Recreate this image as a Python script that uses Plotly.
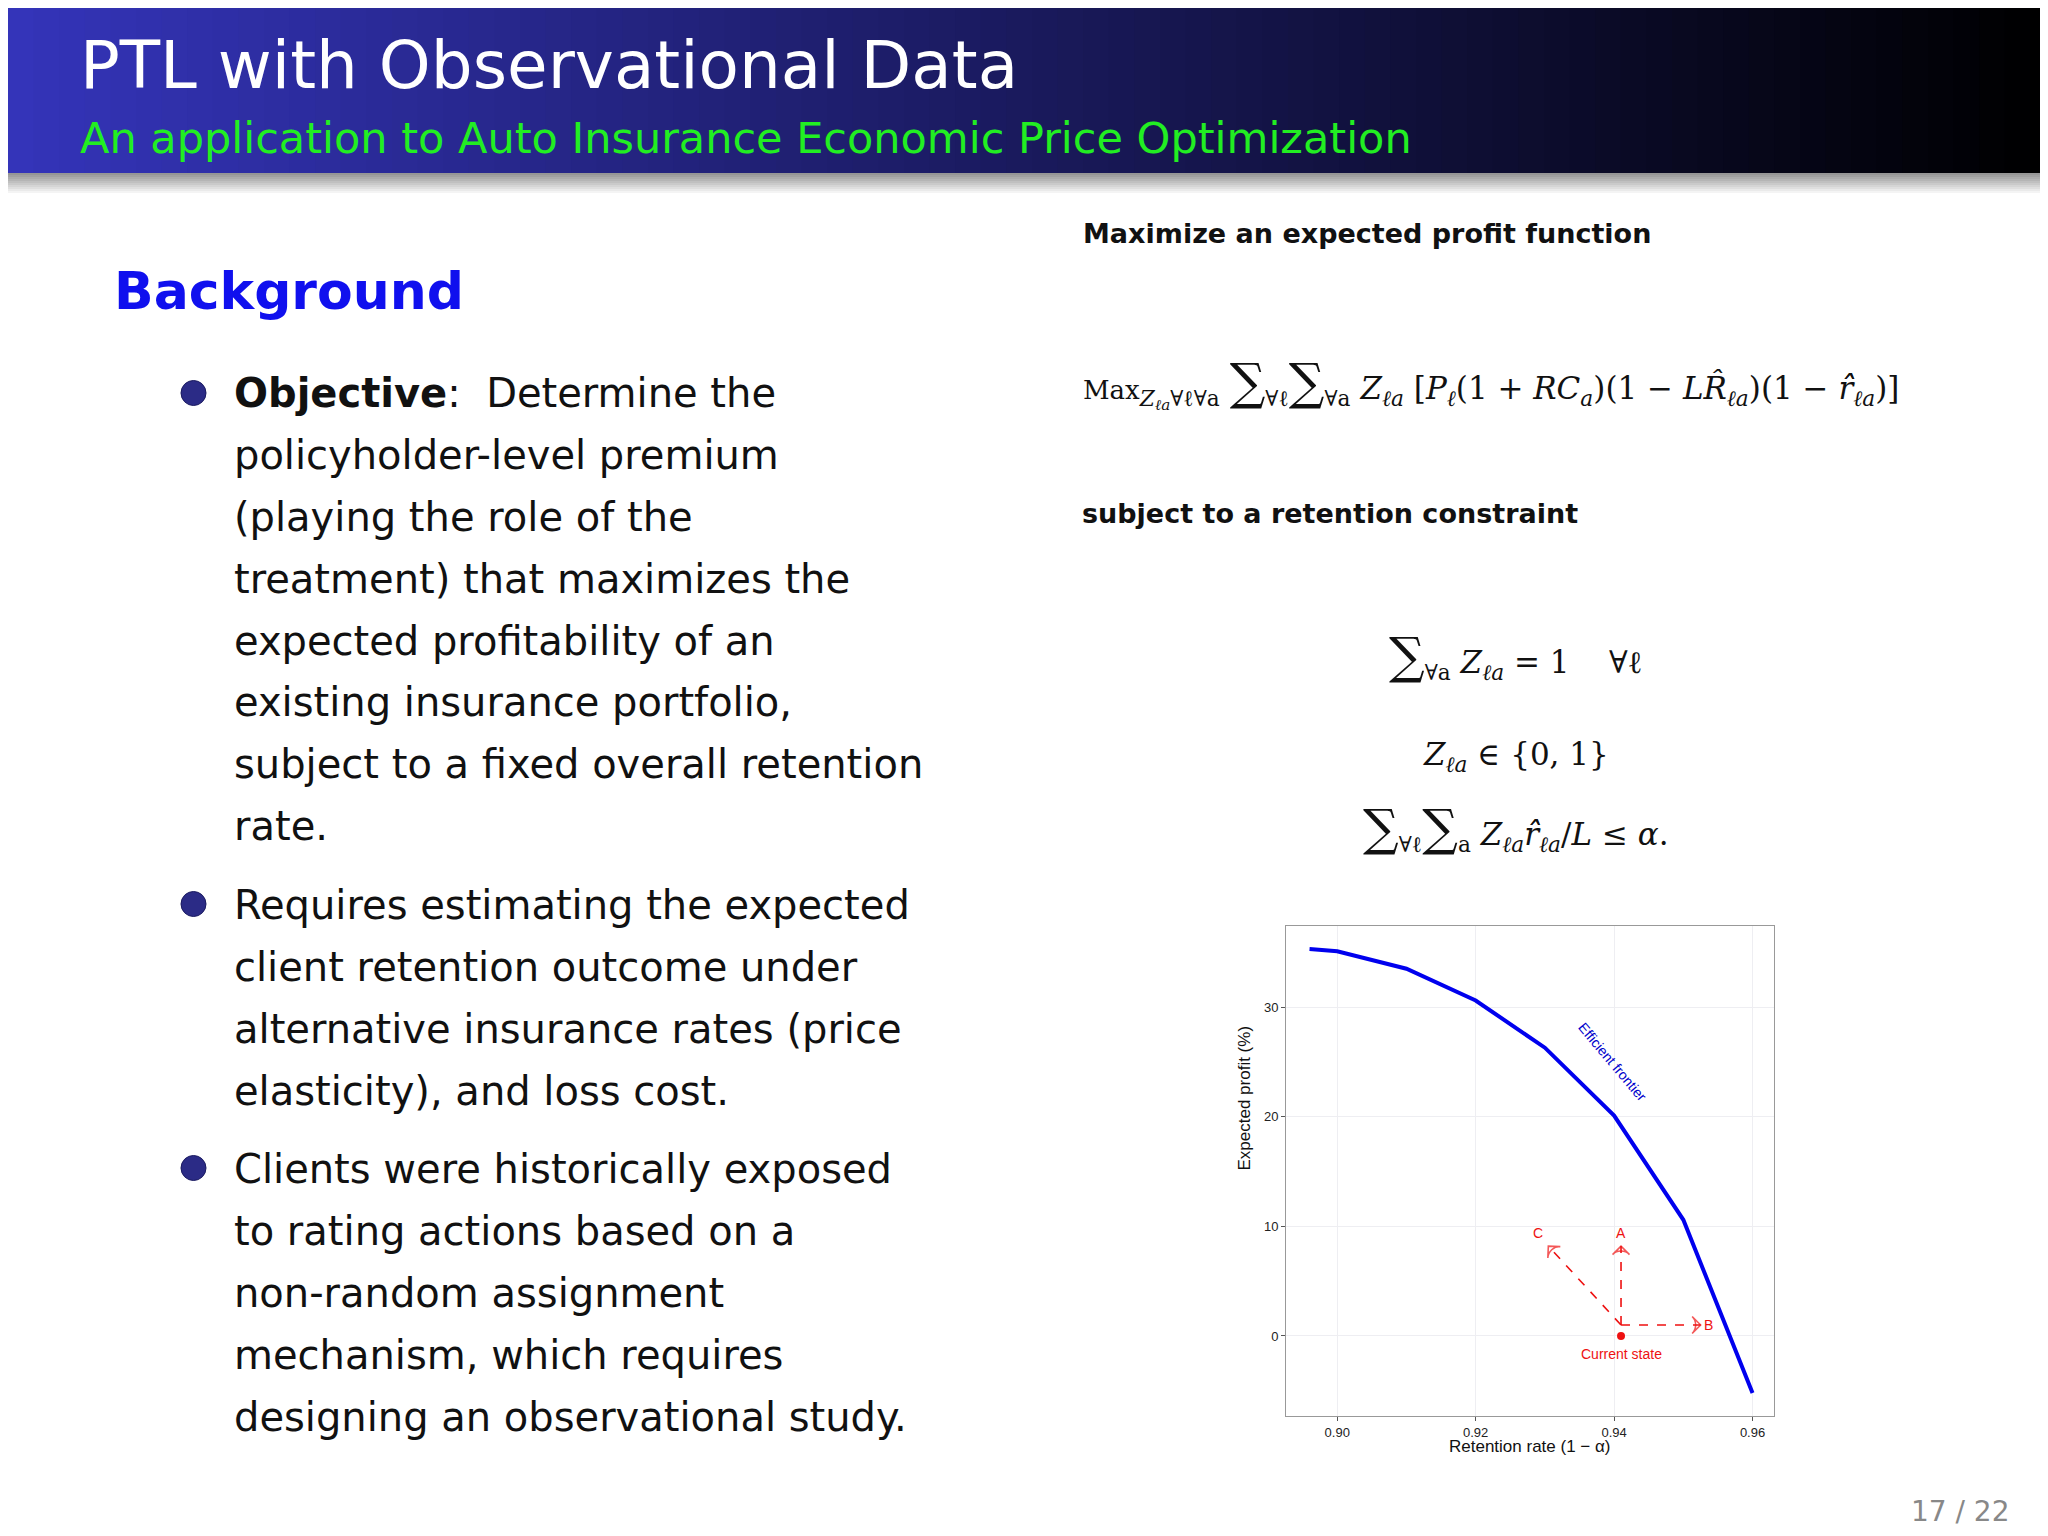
import plotly.graph_objects as go

frontier_x = [0.896, 0.90, 0.91, 0.92, 0.93, 0.94, 0.95, 0.96]
frontier_y = [35.3, 35.1, 33.5, 30.6, 26.3, 20.1, 10.6, -5.2]
current_x, current_y = [0.941], [0.0]
arrow_start = (0.941, 1.0)
arrow_ends = {"A": (0.941, 8.2), "B": (0.9525, 1.0), "C": (0.9305, 8.2)}
x_ticks = [0.90, 0.92, 0.94, 0.96]
y_ticks = [0, 10, 20, 30]

W, H = 2048, 1536
def px(x): return x / W
def py(y): return 1 - y / H

fig = go.Figure()
fig.add_trace(go.Scatter(x=frontier_x, y=frontier_y, mode="lines",
                         line=dict(color="#0000ee", width=4), showlegend=False))
for k, (ex, ey) in arrow_ends.items():
    fig.add_trace(go.Scatter(x=[arrow_start[0], ex], y=[arrow_start[1], ey], mode="lines+markers",
                             line=dict(color="#ee1111", width=1.6, dash="dash"),
                             marker=dict(symbol="arrow-wide-open", size=[0, 12], angleref="previous",
                                         color="#ee1111", line=dict(color="#ee1111", width=1.6)),
                             showlegend=False))
fig.add_trace(go.Scatter(x=current_x, y=current_y, mode="markers",
                         marker=dict(color="#ee1111", size=8), showlegend=False))

ann = []
lab_off = {"A": (0, 1.2), "B": (0.0012, 0), "C": (-0.0015, 1.2)}
for k, (ex, ey) in arrow_ends.items():
    dx, dy = lab_off[k]
    ann.append(dict(x=ex + dx, y=ey + dy, text=k, showarrow=False, xref="x", yref="y",
                    font=dict(color="#ee1111", size=14, family="Liberation Sans")))
ann.append(dict(x=current_x[0], y=-1.6, text="Current state", showarrow=False, xref="x", yref="y",
                font=dict(color="#ee1111", size=14, family="Liberation Sans")))
ann.append(dict(x=0.9398, y=25, text="Efficient frontier", showarrow=False, xref="x", yref="y",
                textangle=50, font=dict(color="#0000cc", size=14, family="Liberation Sans")))

shapes = []
n = 80
for i in range(n):
    t = i / (n - 1)
    c = f"rgb({int(52*(1-t))},{int(52*(1-t))},{int(185*(1-t))})"
    shapes.append(dict(type="rect", xref="paper", yref="paper", x0=i/n, x1=(i+1)/n + 0.002,
                       y0=py(165), y1=1, fillcolor=c, line=dict(width=0), layer="below"))
for j in range(10):
    g = 150 + int(10.5 * j)
    shapes.append(dict(type="rect", xref="paper", yref="paper", x0=0, x1=1,
                       y0=py(165 + 2*(j+1)), y1=py(165 + 2*j), fillcolor=f"rgb({g},{g},{g})",
                       line=dict(width=0), layer="below"))
for yb in [385, 896, 1160]:
    shapes.append(dict(type="circle", xref="paper", yref="paper", x0=px(173), x1=px(198),
                       y0=py(yb + 12.5), y1=py(yb - 12.5), fillcolor="#2b2b86",
                       line=dict(color="#1a1a60", width=1)))

font = "DejaVu Sans"
def t(x, y, s, size, color="#111111", xa="left", fam=font):
    ann.append(dict(x=px(x), y=py(y), xref="paper", yref="paper", text=s, showarrow=False,
                    xanchor=xa, yanchor="middle", font=dict(size=size, color=color, family=fam)))

t(70, 58, "PTL with Observational Data", 66, "white")
t(70, 130, "An application to Auto Insurance Economic Price Optimization", 43, "#22ee22")
t(104, 283, "<b>Background</b>", 52, "#1010ee")
lines1 = ["<b>Objective</b>:  Determine the", "policyholder-level premium", "(playing the role of the",
          "treatment) that maximizes the", "expected profitability of an", "existing insurance portfolio,",
          "subject to a fixed overall retention", "rate."]
ys1 = [385, 447, 509, 571, 633, 694, 756, 818]
lines2 = ["Requires estimating the expected", "client retention outcome under",
          "alternative insurance rates (price", "elasticity), and loss cost."]
ys2 = [897, 959, 1021, 1083]
lines3 = ["Clients were historically exposed", "to rating actions based on a",
          "non-random assignment", "mechanism, which requires", "designing an observational study."]
ys3 = [1161, 1223, 1285, 1347, 1409]
for L, Y in [(lines1, ys1), (lines2, ys2), (lines3, ys3)]:
    for s, y in zip(L, Y):
        t(224, y, s, 40)

t(1073, 226, "<b>Maximize an expected profit function</b>", 27)
t(1072, 506, "<b>subject to a retention constraint</b>", 27)
S = "<span style='font-size:50px'>∑</span>"
t(1073, 375, "<span style='font-size:26px'>Max</span><sub><i>Z<sub>ℓa</sub></i>∀ℓ∀a</sub> "
  f"{S}<sub>∀ℓ</sub>{S}<sub>∀a</sub> <i>Z<sub>ℓa</sub></i> [<i>P<sub>ℓ</sub></i>(1 + <i>RC<sub>a</sub></i>)(1 − <i>LR̂<sub>ℓa</sub></i>)(1 − <i>r̂̂<sub>ℓa</sub></i>)]",
  31, fam="DejaVu Serif")
t(1508, 648, f"{S}<sub>∀a</sub> <i>Z<sub>ℓa</sub></i> = 1    ∀ℓ", 31, xa="center", fam="DejaVu Serif")
t(1508, 748, "<i>Z<sub>ℓa</sub></i> ∈ {0, 1}", 31, xa="center", fam="DejaVu Serif")
t(1508, 820, f"{S}<sub>∀ℓ</sub>{S}<sub>a</sub> <i>Z<sub>ℓa</sub>r̂̂<sub>ℓa</sub></i>/<i>L</i> ≤ <i>α</i>.", 31, xa="center", fam="DejaVu Serif")
t(2004, 1503, "17 / 22", 28, "#888888", xa="right")

ann.append(dict(x=px(1236), y=py(1165), xref="paper", yref="paper", text="Expected profit (%)",
                xanchor="center", showarrow=False, textangle=-90,
                font=dict(size=17, color="#111", family="Liberation Sans")))
ann.append(dict(x=px(1522), y=py(1438), xref="paper", yref="paper", text="Retention rate (1 − α)",
                xanchor="center", yanchor="middle", showarrow=False,
                font=dict(size=17, color="#111", family="Liberation Sans")))

ax = dict(showline=True, linecolor="#999999", mirror=True, gridcolor="#eeeef2",
          ticks="outside", tickcolor="#555", ticklen=4, zeroline=False,
          tickfont=dict(size=13, color="#222", family="Liberation Sans"))
fig.update_layout(
    width=W, height=H, margin=dict(l=0, r=0, t=0, b=0),
    paper_bgcolor="white", plot_bgcolor="white",
    xaxis=dict(domain=[px(1278), px(1766)], range=[0.8926, 0.9631], tickvals=x_ticks,
               tickformat=".2f", **ax),
    yaxis=dict(domain=[py(1408), py(918)], range=[-7.3, 37.4], tickvals=y_ticks, **ax),
    annotations=ann, shapes=shapes,
)
fig.write_html("out.html")
